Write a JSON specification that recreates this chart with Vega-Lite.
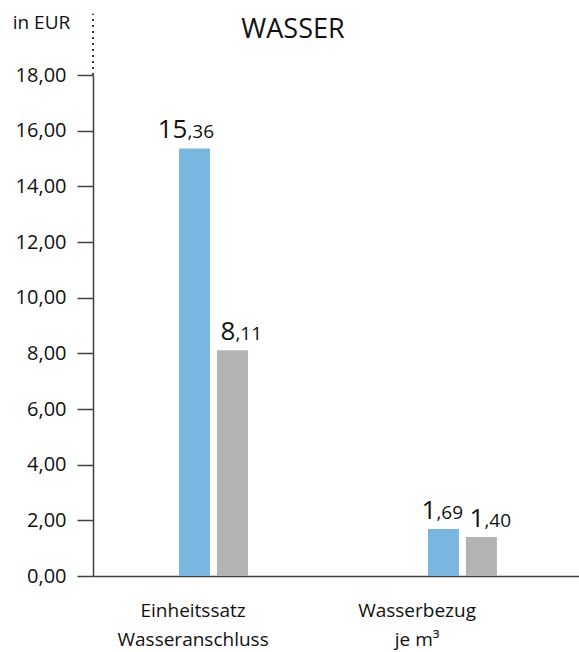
{
  "$schema": "https://vega.github.io/schema/vega-lite/v6.json",
  "width": 486,
  "height": 501,
  "autosize": "none",
  "padding": {"left": 93, "top": 75, "right": 0, "bottom": 76},
  "background": "white",
  "config": {"view": {"stroke": null}, "font": "Open Sans"},
  "title": {"text": "WASSER", "fontSize": 27, "fontWeight": "normal", "font": "Open Sans", "color": "#111", "anchor": "middle", "dx": -43, "offset": -52, "baseline": "alphabetic"},
  "data": {"values": [
    {"kategorie": "Einheitssatz\nWasseranschluss", "serie": "A", "wert": 15.36, "ganz": "15", "dezimal": ",36"},
    {"kategorie": "Einheitssatz\nWasseranschluss", "serie": "B", "wert": 8.11, "ganz": "8", "dezimal": ",11"},
    {"kategorie": "Wasserbezug\nje m³", "serie": "A", "wert": 1.69, "ganz": "1", "dezimal": ",69"},
    {"kategorie": "Wasserbezug\nje m³", "serie": "B", "wert": 1.40, "ganz": "1", "dezimal": ",40"}
  ]},
  "resolve": {"scale": {"x": "independent"}, "axis": {"x": "independent"}},
  "layer": [
    {
      "encoding": {
        "x": {"field": "kategorie", "type": "nominal", "sort": null,
          "scale": {"paddingInner": 0.6948, "paddingOuter": 0.3234, "align": 0.512},
          "axis": {"title": null, "labels": false, "ticks": false, "orient": "bottom", "domainColor": "#404040", "domainWidth": 1.5}},
        "xOffset": {"field": "serie", "type": "nominal", "scale": {"paddingInner": 0.184, "paddingOuter": 0.092}},
        "y": {"field": "wert", "type": "quantitative",
          "scale": {"domain": [0, 18], "nice": false},
          "axis": {"values": [0, 2, 4, 6, 8, 10, 12, 14, 16, 18], "grid": false,
            "labelExpr": "replace(format(datum.value, '.2f'), '.', ',')",
            "labelFontSize": 20, "labelColor": "#111", "labelFont": "Open Sans", "labelPadding": 11,
            "tickSize": 16, "tickColor": "#404040", "tickWidth": 1.5, "domainColor": "#404040", "domainWidth": 1.5,
            "title": "in EUR", "titleAngle": 0, "titleAlign": "center", "titleBaseline": "alphabetic",
            "titleX": -52, "titleY": -47, "titleFontSize": 19, "titleFontWeight": "normal", "titleColor": "#111", "titleFont": "Open Sans"}}
      },
      "layer": [
        {"mark": {"type": "bar"},
         "encoding": {"color": {"field": "serie", "type": "nominal", "legend": null,
           "scale": {"domain": ["A", "B"], "range": ["#79b7e0", "#b3b3b3"]}}}},
        {"transform": [{"filter": "datum.serie == 'A'"}],
         "mark": {"type": "text", "align": "right", "baseline": "alphabetic", "dx": -7, "dy": -10, "fontSize": 26, "color": "#111", "font": "Open Sans"},
         "encoding": {"text": {"field": "ganz", "type": "nominal"}}},
        {"transform": [{"filter": "datum.serie == 'A'"}],
         "mark": {"type": "text", "align": "left", "baseline": "alphabetic", "dx": -7, "dy": -10, "fontSize": 19, "color": "#111", "font": "Open Sans"},
         "encoding": {"text": {"field": "dezimal", "type": "nominal"}}},
        {"transform": [{"filter": "datum.serie == 'B'"}],
         "mark": {"type": "text", "align": "right", "baseline": "alphabetic", "dx": 3, "dy": -10, "fontSize": 26, "color": "#111", "font": "Open Sans"},
         "encoding": {"text": {"field": "ganz", "type": "nominal"}}},
        {"transform": [{"filter": "datum.serie == 'B'"}],
         "mark": {"type": "text", "align": "left", "baseline": "alphabetic", "dx": 3, "dy": -10, "fontSize": 19, "color": "#111", "font": "Open Sans"},
         "encoding": {"text": {"field": "dezimal", "type": "nominal"}}},
        {"data": {"values": [{"oben": 20.2, "unten": 18}]},
         "mark": {"type": "rule", "strokeDash": [2, 4], "strokeWidth": 2, "color": "#404040", "clip": false},
         "encoding": {"x": {"value": 0}, "y": {"field": "unten", "type": "quantitative"}, "y2": {"field": "oben"}, "xOffset": null}}
      ]
    },
    {
      "transform": [{"filter": "datum.serie == 'A'"}],
      "mark": {"type": "text", "align": "center", "baseline": "alphabetic", "lineBreak": "\n", "lineHeight": 29, "dy": 41, "fontSize": 19, "color": "#111", "font": "Open Sans"},
      "encoding": {
        "x": {"field": "kategorie", "type": "nominal", "sort": null,
          "scale": {"type": "point", "padding": 0.585, "align": 0.382},
          "axis": null},
        "y": {"datum": 0, "type": "quantitative"},
        "text": {"field": "kategorie", "type": "nominal"}
      }
    }
  ]
}
